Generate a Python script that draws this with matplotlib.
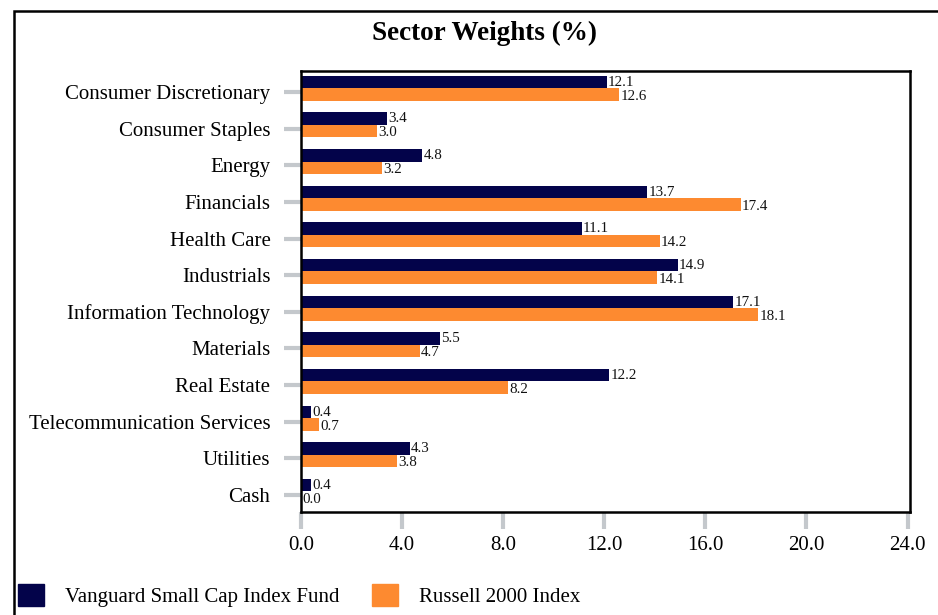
import matplotlib
matplotlib.use('Agg')
import matplotlib.pyplot as plt
import numpy as np
from matplotlib.patches import Rectangle, Patch

# data
sectors = ['Consumer Discretionary', 'Consumer Staples', 'Energy', 'Financials',
           'Health Care', 'Industrials', 'Information Technology', 'Materials',
           'Real Estate', 'Telecommunication Services', 'Utilities', 'Cash']
vanguard = [12.1, 3.4, 4.8, 13.7, 11.1, 14.9, 17.1, 5.5, 12.2, 0.4, 4.3, 0.4]
russell = [12.6, 3.0, 3.2, 17.4, 14.2, 14.1, 18.1, 4.7, 8.2, 0.7, 3.8, 0.0]
xticks = [0, 4, 8, 12, 16, 20, 24]

navy = '#03034a'
orange = '#fd8a30'
tickgray = '#c4c8cc'

plt.rcParams['font.family'] = ['Liberation Serif', 'DejaVu Serif']

fig = plt.figure(figsize=(9.38, 6.15), dpi=100)
ax = fig.add_axes([0.3209, 0.1675, 0.6493, 0.7171])

y = np.arange(len(sectors))
h = 0.34
off = 0.1  # the bar pair sits a little above the tick
yv = y - off - h / 2
yr = y - off + h / 2
ax.barh(yv, vanguard, height=h, color=navy)
ax.barh(yr, russell, height=h, color=orange)

for i in range(len(sectors)):
    ax.text(vanguard[i] + 0.05, yv[i] + 0.01, '%.1f' % vanguard[i],
            va='center', ha='left', fontsize=10.8, color='#111111')
    ax.text(russell[i] + 0.05, yr[i] + 0.05, '%.1f' % russell[i],
            va='center', ha='left', fontsize=10.8, color='#111111')

ax.set_xlim(0, 24.1)
ax.set_ylim(11.46, -0.57)
ax.set_yticks(y)
ax.set_yticklabels(sectors, fontsize=15)
ax.set_xticks(xticks)
ax.set_xticklabels(['%.1f' % v for v in xticks], fontsize=15)
ax.tick_params(axis='both', color=tickgray, width=3, length=12)
ax.tick_params(axis='y', pad=10)
ax.tick_params(axis='x', pad=5)

for s in ax.spines.values():
    s.set_linewidth(1.8)
    s.set_color('black')

fig.text(0.516, 0.946, 'Sector Weights (%)', ha='center', va='center',
         fontsize=19.5, fontweight='bold')

# outer frame
fig.patches.append(Rectangle((0.0149, -0.05), 1.2, 1.032, transform=fig.transFigure,
                             fill=False, edgecolor='black', linewidth=1.8))

handles = [Patch(facecolor=navy, edgecolor=navy), Patch(facecolor=orange, edgecolor=orange)]
fig.legend(handles, ['Vanguard Small Cap Index Fund', 'Russell 2000 Index'],
           loc='center left', bbox_to_anchor=(0.01, 0.031), ncol=2, frameon=False,
           fontsize=15, handlelength=1.25, handleheight=1.25, handletextpad=1.0,
           columnspacing=1.6, borderaxespad=0)

fig.savefig('out.png', dpi=100)
